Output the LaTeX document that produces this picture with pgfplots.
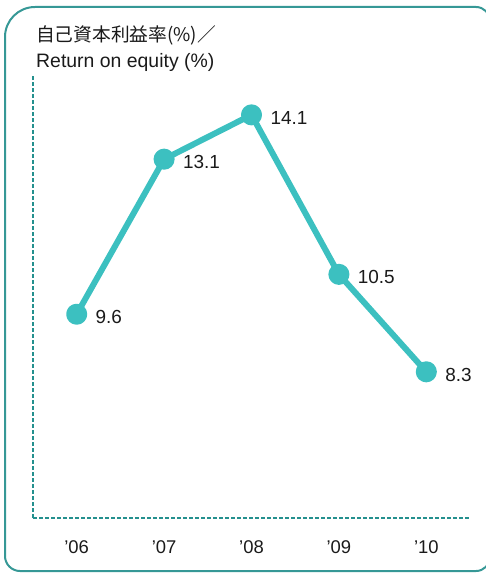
\documentclass[border=0pt]{standalone}
\usepackage{pgfplots}
\pgfplotsset{compat=1.18}
\usepackage{fontspec}
\setmainfont{Liberation Sans}
\newfontfamily\cjk{Noto Sans CJK JP}
\definecolor{lineC}{HTML}{3CC0C0}
\definecolor{axC}{HTML}{24908E}
\definecolor{frameC}{HTML}{369896}
\definecolor{txtC}{HTML}{1A1A1A}
\begin{document}
\begin{tikzpicture}[x=1bp,y=1bp]
\useasboundingbox (0,0) rectangle (486,-573);
\clip (0,0) rectangle (486,-573);
\draw[frameC, line width=2bp] (5,-37) -- (5,-556) arc[start angle=180,end angle=270,radius=15] -- (476,-571) arc[start angle=270,end angle=360,radius=14] -- (490,-21) arc[start angle=0,end angle=90,radius=14] -- (35,-7) arc[start angle=90,end angle=180,radius=30] -- cycle;
\node[anchor=base west, inner sep=0, text=txtC, font=\cjk\fontsize{18.8}{22}\selectfont] at (36,-42) {自己資本利益率(\%)／};
\node[anchor=base west, inner sep=0, text=txtC, font=\fontsize{19.5}{22}\selectfont] at (36,-68) {Return on equity (\%)};
\begin{axis}[at={(33bp,-518bp)}, anchor=south west, scale only axis,
  width=437bp, height=443bp,
  xmin=-0.5, xmax=4.5, ymin=5, ymax=15,
  axis x line*=bottom, axis y line*=left,
  axis line style={-, axC, line width=1.3bp, dash pattern=on 4bp off 2bp},
  ytick=\empty, xtick={0,1,2,3,4}, xticklabels={'06,'07,'08,'09,'10},
  major tick length=0,
  xticklabel style={anchor=base, yshift=-35bp, inner sep=0pt, text=txtC, font=\fontsize{18.5}{20}\selectfont},
  clip=false]
\addplot[lineC, line width=6bp, line join=round, mark=*, mark size=7.5bp,
  mark options={solid, fill=lineC, draw=none},
  nodes near coords, point meta=explicit symbolic,
  every node near coord/.style={anchor=west, xshift=16bp, yshift=-3bp, inner sep=0pt, text=txtC, font=\fontsize{19}{22}\selectfont}]
  table[meta=l] {
x y l
0 9.6 9.6
1 13.1 13.1
2 14.1 14.1
3 10.5 10.5
4 8.3 8.3
};
\end{axis}
\end{tikzpicture}
\end{document}
